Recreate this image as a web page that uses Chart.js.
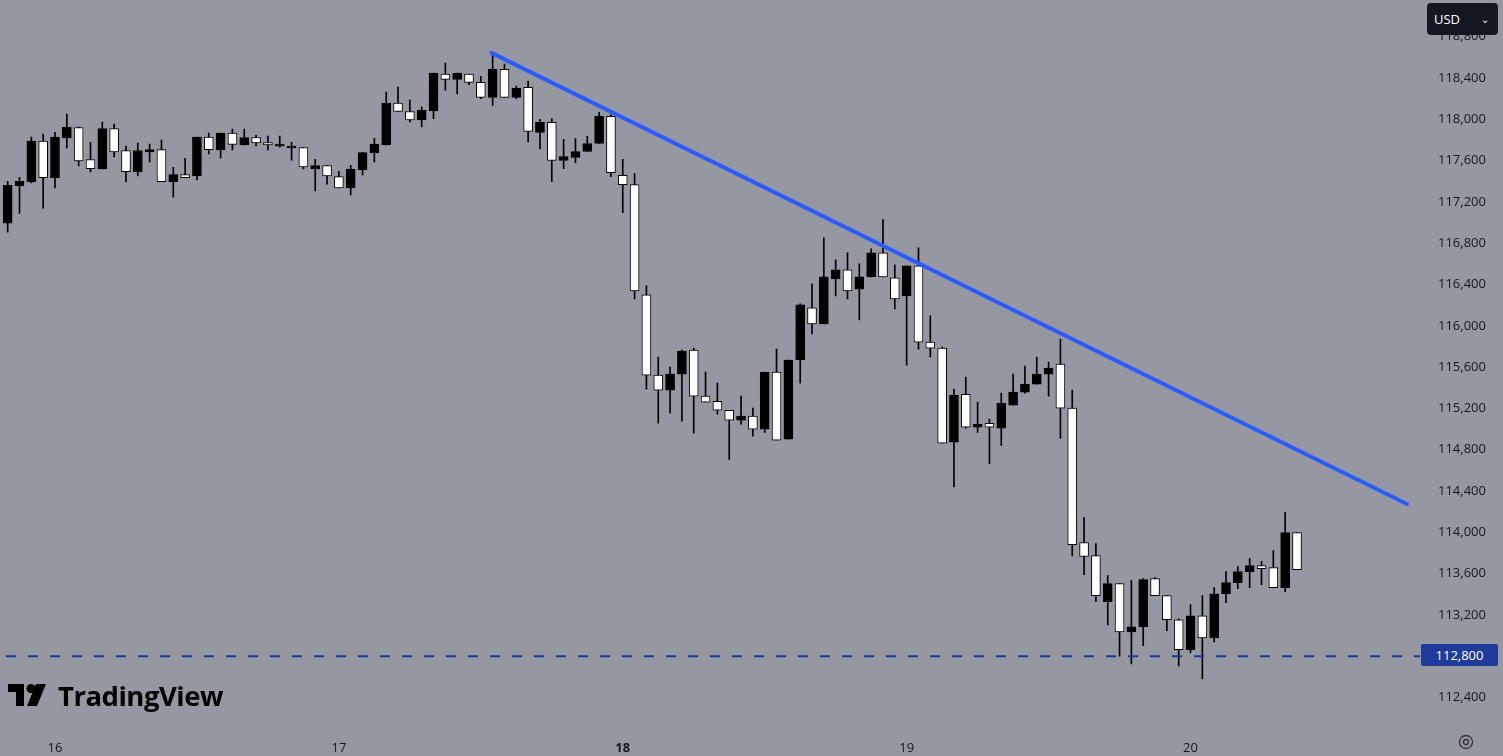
<!DOCTYPE html>
<html><head><meta charset="utf-8">
<script src="https://cdn.jsdelivr.net/npm/chart.js@4"></script>
<style>
html,body{margin:0;padding:0;background:#9598a1;overflow:hidden;font-family:"Open Sans",Roboto,sans-serif}
#wrap{position:relative;width:1503px;height:756px}
#usd{position:absolute;left:1427px;top:3px;width:71px;height:32px;background:#131722;border-radius:4px;color:#fff;font-size:13px;line-height:32px;box-sizing:border-box;padding-left:7px}
#usd span{position:absolute;right:9px;top:0;font-size:10px}
#plbl{position:absolute;left:1421px;top:644px;width:77px;height:22px;background:#1e3a9a;color:#fff;font-size:13px;line-height:22px;text-align:center;border-radius:2px}
#logo{position:absolute;left:8px;top:679px;height:32px;display:flex;align-items:center;color:#000;font-weight:700;font-size:27.5px;font-family:"Open Sans",sans-serif;letter-spacing:-0.5px}
#gear{position:absolute;left:1457px;top:733px}
</style></head><body>
<div id="wrap">
<canvas id="c" width="1503" height="756"></canvas>
<div id="usd">USD<span>&#8964;</span></div>
<div id="plbl">112,800</div>
<div id="logo"><svg width="46" height="22" viewBox="0 0 46 22"><path d="M0 0h16v22H8V8H0z" fill="#000"/><circle cx="23" cy="4.5" r="4.5" fill="#000"/><path d="M28 0h10l-9 22H19z" fill="#000"/></svg><span style="margin-left:4px">TradingView</span></div>
<svg id="gear" width="18" height="18" viewBox="0 0 18 18"><circle cx="9" cy="9" r="6.5" fill="none" stroke="#333" stroke-width="1.3"/><circle cx="9" cy="9" r="2.5" fill="none" stroke="#333" stroke-width="1.3"/></svg>
</div>
<script>
const dayLabels = {0:'16',24:'17',48:'18',72:'19',96:'20'};
const opens = [116995,117354,117393,117788,117432,117820,117921,117610,117519,117911,117698,117490,117684,117707,117397,117465,117451,117827,117704,117866,117752,117824,117775,117740,117723,117727,117519,117552,117445,117335,117509,117674,117752,118157,118076,117995,118082,118439,118387,118439,118358,118212,118484,118212,118309,117872,117970,117601,117630,117688,117766,118028,117458,117368,116300,115523,115377,115533,115766,115319,115270,115183,115086,115125,114999,115552,114902,115669,116174,116018,116455,116542,116354,116474,116707,116465,116290,116581,115843,115785,114873,115338,115018,115057,115008,115232,115358,115436,115533,115630,115203,113902,113775,113329,113504,113037,113086,113552,113387,113154,112863,113193,112979,113406,113513,113620,113678,113659,113465,113999];
const highs = [117400,117438,117827,117856,117875,118050,117924,117778,117972,117953,117740,117769,117759,117798,117536,117623,117827,117866,117866,117905,117905,117846,117837,117837,117778,117727,117613,117552,117497,117555,117678,117817,118264,118312,118186,118121,118448,118545,118448,118439,118416,118623,118536,118322,118371,117999,118008,117805,117814,117834,118067,118047,117613,117474,116387,115698,115601,115766,115785,115552,115445,115183,115319,115203,115552,115775,115669,116212,116406,116853,116639,116707,116601,116746,117028,116591,116581,116756,116096,115795,115387,115504,115261,115096,115348,115533,115610,115698,115649,115872,115377,114144,113892,113581,113504,113533,113552,113562,113387,113164,113300,113387,113465,113620,113669,113746,113717,113824,114193,113999];
const lows = [116907,117089,117383,117140,117335,117723,117548,117490,117519,117636,117393,117451,117587,117397,117247,117436,117412,117665,117626,117704,117752,117742,117704,117730,117604,117519,117306,117371,117335,117267,117461,117587,117752,118076,117975,117927,118005,118283,118247,118335,118199,118135,118212,118199,117781,117713,117397,117523,117581,117688,117766,117445,117096,116261,115387,115057,115154,115076,114960,115261,115144,114707,115047,114931,114969,114892,114902,115445,115921,116018,116290,116261,116057,116474,116474,116164,115620,115775,115698,114863,114441,115008,114969,114665,114843,115232,115348,115436,115319,114912,113771,113591,113329,113105,112801,112727,112902,113387,113047,112707,112834,112581,112940,113319,113455,113465,113494,113465,113426,113640];
const closes = [117361,117400,117788,117436,117827,117924,117597,117523,117911,117684,117494,117698,117707,117397,117465,117436,117827,117707,117866,117756,117824,117772,117752,117759,117740,117539,117552,117451,117335,117516,117678,117759,118157,118076,117995,118086,118448,118387,118448,118358,118212,118484,118212,118300,117882,117970,117601,117639,117688,117766,118028,117484,117368,116339,115523,115377,115533,115756,115319,115261,115183,115086,115125,114999,115552,114892,115669,116203,116018,116474,116542,116339,116474,116707,116474,116261,116581,115843,115785,114863,115329,115018,115047,115018,115251,115358,115436,115533,115591,115203,113882,113766,113387,113504,113037,113086,113542,113387,113154,112863,113193,112979,113406,113513,113620,113678,113649,113465,113999,113640];
const firstHour = -4;
const trendLine = [{x:36.9,y:118643},{x:114.3,y:114274}];
const supportLevel = 112800;

const hours = opens.map((_,i)=>i+firstHour);
const bodyData = hours.map((h,i)=>({x:h,y:[opens[i],closes[i]]}));
const wickData = hours.map((h,i)=>({x:h,y:[lows[i],highs[i]]}));
const bodyColors = hours.map((_,i)=> closes[i]>=opens[i] ? '#000000' : '#ffffff');

new Chart(document.getElementById('c'),{
  type:'bar',
  data:{datasets:[
    {type:'line',data:trendLine,borderColor:'#2e5bff',borderWidth:4,borderCapStyle:'round',pointRadius:0,order:-2},
    {type:'line',data:[{x:-6,y:supportLevel},{x:116,y:supportLevel}],borderColor:'#1e3a9a',borderWidth:2,borderDash:[10,12],pointRadius:0,order:-1},
    {data:bodyData,backgroundColor:bodyColors,borderColor:'#000',borderWidth:1,borderSkipped:false,barThickness:9,grouped:false,order:0},
    {data:wickData,backgroundColor:'#000',borderWidth:0,barThickness:1,grouped:false,order:1}
  ]},
  options:{
    responsive:false,animation:false,
    layout:{padding:0},
    plugins:{legend:{display:false},tooltip:{enabled:false}},
    scales:{
      x:{type:'linear',min:-4.65,max:115.4,offset:false,
        grid:{display:false},border:{display:false},
        afterFit:s=>{s.height=30;},
        afterBuildTicks:s=>{s.ticks=Object.keys(dayLabels).map(v=>({value:+v}));},
        ticks:{autoSkip:false,maxRotation:0,padding:6,color:'#131722',
          font:c=>({size:13,family:'"Open Sans",sans-serif',weight:c.tick&&c.tick.value===48?'bold':'normal'}),
          callback:v=>dayLabels[v]||''}},
      y:{position:'right',min:112125,max:118983,
        grid:{display:false},border:{display:false},
        afterFit:s=>{s.width=83;},
        afterBuildTicks:s=>{const t=[];for(let v=112400;v<=118800;v+=400)t.push({value:v});s.ticks=t;},
        ticks:{padding:10,color:'#131722',font:{size:13,family:'"Open Sans",sans-serif'},
          callback:v=>v.toLocaleString('en-US')}}
    }
  }
});
</script>
</body></html>
